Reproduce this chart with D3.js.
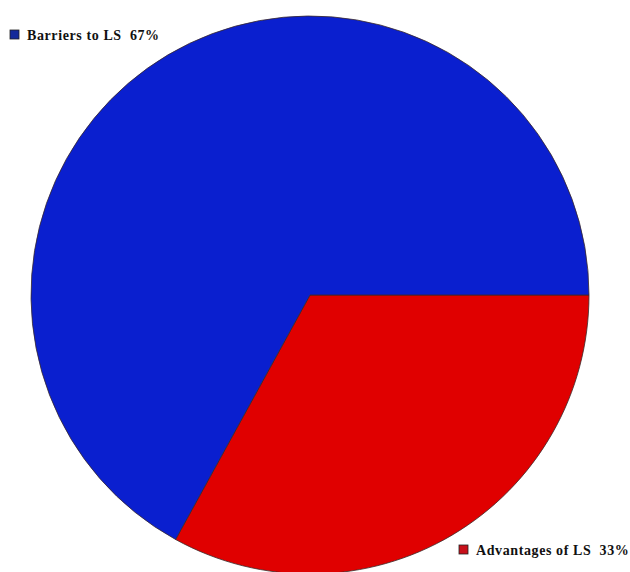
<!DOCTYPE html>
<html><head><meta charset="utf-8">
<script src="https://cdn.jsdelivr.net/npm/d3@7"></script>
<style>html,body{margin:0;padding:0;background:#fff;}svg{display:block;}</style>
</head><body>
<svg id="chart" width="630" height="572"></svg>
<script>
const categories = ["Advantages of LS", "Barriers to LS"];
const values = [33, 67];
const colors = ["#e00000", "#0a1fcf"];
const legendColors = ["#c8101a", "#142a9a"];

const svg = d3.select("#chart");
const cx = 310, cy = 295, r = 279;
const pie = d3.pie().sort(null).value(d => d).startAngle(Math.PI / 2).endAngle(Math.PI / 2 + 2 * Math.PI);
const arc = d3.arc().innerRadius(0).outerRadius(r);
const g = svg.append("g").attr("transform", `translate(${cx},${cy})`);
g.selectAll("path").data(pie(values)).join("path")
  .attr("d", arc)
  .attr("fill", (d, i) => colors[i])
  .attr("stroke", "#3a2a2a")
  .attr("stroke-width", 0.8);

const legendPos = [[459, 545], [10, 30]];
categories.forEach((c, i) => {
  const [x, y] = legendPos[i];
  svg.append("rect").attr("x", x).attr("y", y).attr("width", 9).attr("height", 9)
    .attr("fill", legendColors[i]).attr("stroke", "#222").attr("stroke-width", 0.8);
  svg.append("text").attr("x", x + 17).attr("y", y + 10)
    .attr("font-family", "Liberation Serif, Times New Roman, serif")
    .attr("font-weight", "bold").attr("font-size", 14).attr("fill", "#111")
    .attr("letter-spacing", 0.6)
    .attr("xml:space", "preserve")
    .text(`${c}  ${values[i]}%`);
});
</script>
</body></html>
